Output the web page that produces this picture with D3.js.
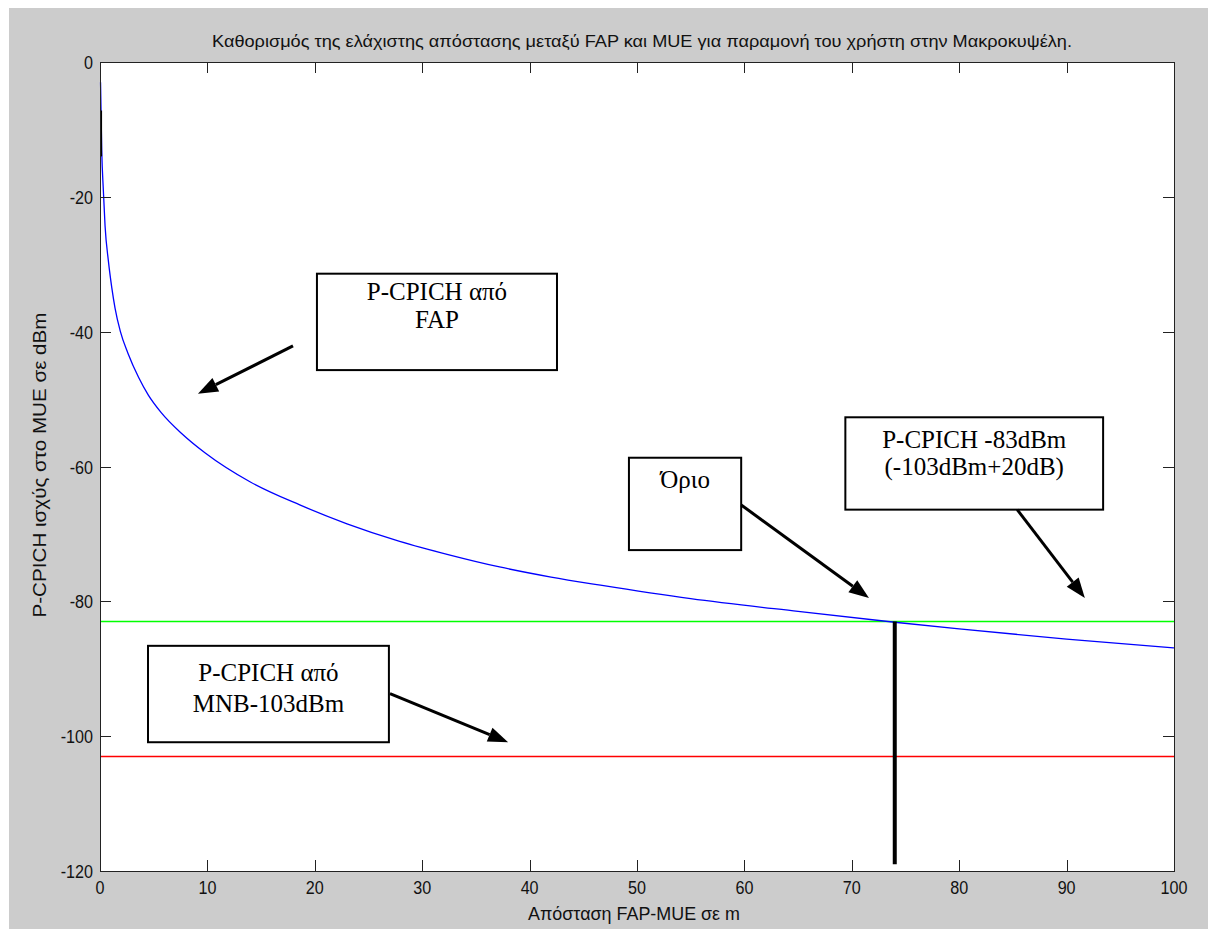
<!DOCTYPE html>
<html>
<head>
<meta charset="utf-8">
<script src="https://cdn.jsdelivr.net/npm/d3@7"></script>
<style>
  body { margin: 0; background: #fff; }
  svg { display: block; }
</style>
</head>
<body>
<div id="chart"></div>
<script>
// values
const distance = [0.05, 0.16, 0.31, 0.47, 0.78, 1.1, 1.4, 1.9, 2.6, 3.6, 4.5, 5.7, 7.6, 9.8, 14, 18.6, 23, 27.9, 32.5, 37.2, 42, 46.6, 55, 65, 74, 80, 90, 100];
const fapPower = [-3, -13, -19, -24.3, -29.5, -33.5, -36.5, -40, -43.2, -46.8, -49.4, -52, -55.1, -58, -62.3, -65.7, -68.5, -71.1, -73.1, -74.9, -76.4, -77.6, -79.6, -81.5, -83.1, -84.1, -85.6, -86.9];
const thresholdLevel = -83;
const mnbLevel = -103;
const limitDistance = 74;
const limitRange = [-83, -119];
const markX = [0.1, 0.1];
const markY = [-7.2, -14];
const xTicks = [0, 10, 20, 30, 40, 50, 60, 70, 80, 90, 100];
const yTicks = [0, -20, -40, -60, -80, -100, -120];

const titleText = "Καθορισμός της ελάχιστης απόστασης μεταξύ FAP και MUE  για παραμονή του χρήστη στην Μακροκυψέλη.";
const xLabel = "Απόσταση FAP-MUE σε m";
const yLabel = "P-CPICH ισχύς στο MUE σε dBm";

// annotation boxes / arrows in data units
const boxes = [
  { x0: 20.2, x1: 42.55, y0: -31.4, y1: -45.7, lines: ["P-CPICH από", "FAP"], base: [-35.3, -39.5] },
  { x0: 4.47, x1: 26.9, y0: -86.6, y1: -100.9, lines: ["P-CPICH από", "MNB-103dBm"], base: [-91.8, -96.4] },
  { x0: 49.25, x1: 59.7, y0: -58.7, y1: -72.4, lines: ["Όριο"], base: [-63.2] },
  { x0: 69.4, x1: 93.4, y0: -52.7, y1: -66.4, lines: ["P-CPICH -83dBm", "(-103dBm+20dB)"], base: [-57.2, -61.3] }
];
const arrows = [
  { from: [17.97, -42.1], to: [9.12, -49.2] },
  { from: [27.0, -93.7], to: [38.0, -100.9] },
  { from: [59.7, -65.7], to: [71.6, -79.5] },
  { from: [85.4, -66.4], to: [91.7, -79.5] }
];

const W = 1208, H = 929;
const pLeft = 100, pTop = 62, pRight = 1174, pBottom = 871;
const axisFont = "'Liberation Sans', Arial, sans-serif";

const svg = d3.select("#chart").append("svg")
  .attr("width", W)
  .attr("height", H);

svg.append("rect").attr("x", 9).attr("y", 8).attr("width", W - 9).attr("height", H - 8).attr("fill", "#cccccc");
svg.append("rect").attr("x", pLeft).attr("y", pTop).attr("width", pRight - pLeft).attr("height", pBottom - pTop).attr("fill", "#fff");

const x = d3.scaleLinear().domain([0, 100]).range([pLeft, pRight]);
const y = d3.scaleLinear().domain([-120, 0]).range([pBottom, pTop]);

const plot = svg.append("g");

// horizontal reference levels
plot.append("line")
  .attr("x1", x(0)).attr("x2", x(100))
  .attr("y1", y(mnbLevel)).attr("y2", y(mnbLevel))
  .attr("stroke", "#ff0000").attr("stroke-width", 1.5);
plot.append("line")
  .attr("x1", x(0)).attr("x2", x(100))
  .attr("y1", y(thresholdLevel)).attr("y2", y(thresholdLevel))
  .attr("stroke", "#00ff00").attr("stroke-width", 1.5);

// FAP curve
const line = d3.line()
  .x((d, i) => x(distance[i]))
  .y(d => y(d))
  .curve(d3.curveMonotoneX);
plot.append("path")
  .datum(fapPower)
  .attr("d", line)
  .attr("fill", "none")
  .attr("stroke", "#0000ff")
  .attr("stroke-width", 1.3);

// limit marker
plot.append("line")
  .attr("x1", x(limitDistance)).attr("x2", x(limitDistance))
  .attr("y1", y(limitRange[0])).attr("y2", y(limitRange[1]))
  .attr("stroke", "#000").attr("stroke-width", 4);
plot.append("line")
  .attr("x1", x(markX[0])).attr("x2", x(markX[1]))
  .attr("y1", y(markY[0])).attr("y2", y(markY[1]))
  .attr("stroke", "#000").attr("stroke-width", 2);

// axes box + ticks (inward, all four sides)
const axisG = svg.append("g").attr("stroke", "#222").attr("stroke-width", 1);
axisG.append("rect")
  .attr("x", pLeft + 0.5).attr("y", pTop + 0.5)
  .attr("width", pRight - pLeft).attr("height", pBottom - pTop)
  .attr("fill", "none");
const tl = 11;
xTicks.forEach(t => {
  const px = Math.round(x(t)) + 0.5;
  axisG.append("line").attr("x1", px).attr("x2", px).attr("y1", pBottom).attr("y2", pBottom - tl);
  axisG.append("line").attr("x1", px).attr("x2", px).attr("y1", pTop).attr("y2", pTop + tl);
});
yTicks.forEach(t => {
  const py = Math.round(y(t)) + 0.5;
  axisG.append("line").attr("x1", pLeft).attr("x2", pLeft + tl).attr("y1", py).attr("y2", py);
  axisG.append("line").attr("x1", pRight).attr("x2", pRight - tl).attr("y1", py).attr("y2", py);
});

// tick labels, squeezed to look like the narrow MATLAB screen font
const labels = svg.append("g").attr("font-family", axisFont).attr("fill", "#111").attr("font-size", 19);
labels.selectAll(".xt").data(xTicks).enter().append("text")
  .attr("transform", d => `translate(${x(d)},${pBottom + 23}) scale(0.85,1)`)
  .attr("text-anchor", "middle")
  .text(d => d);
labels.selectAll(".yt").data(yTicks).enter().append("text")
  .attr("transform", d => `translate(${pLeft - 7},${y(d) + 7}) scale(0.85,1)`)
  .attr("text-anchor", "end")
  .text(d => d);

labels.append("text")
  .attr("x", 642).attr("y", 47)
  .attr("text-anchor", "middle").attr("font-size", 17)
  .attr("textLength", 860).attr("lengthAdjust", "spacingAndGlyphs")
  .text(titleText);
labels.append("text")
  .attr("x", 634).attr("y", 920)
  .attr("text-anchor", "middle")
  .attr("textLength", 212).attr("lengthAdjust", "spacingAndGlyphs")
  .text(xLabel);
labels.append("text")
  .attr("transform", "translate(46,465) rotate(-90)")
  .attr("text-anchor", "middle")
  .attr("textLength", 305).attr("lengthAdjust", "spacingAndGlyphs")
  .text(yLabel);

// annotations
const ann = svg.append("g");
boxes.forEach(b => {
  ann.append("rect")
    .attr("x", x(b.x0)).attr("y", y(b.y0))
    .attr("width", x(b.x1) - x(b.x0)).attr("height", y(b.y1) - y(b.y0))
    .attr("fill", "#fff").attr("stroke", "#000").attr("stroke-width", 2);
  b.lines.forEach((s, i) => {
    ann.append("text")
      .attr("x", (x(b.x0) + x(b.x1)) / 2).attr("y", y(b.base[i]))
      .attr("text-anchor", "middle")
      .attr("font-family", "'Liberation Serif', 'Times New Roman', serif")
      .attr("font-size", 25).attr("fill", "#000")
      .text(s);
  });
});
arrows.forEach(a => {
  const x1 = x(a.from[0]), y1 = y(a.from[1]);
  const x2 = x(a.to[0]), y2 = y(a.to[1]);
  const ang = Math.atan2(y2 - y1, x2 - x1);
  const len = 20, hw = 7.5;
  const bx = x2 - len * Math.cos(ang), by = y2 - len * Math.sin(ang);
  ann.append("line")
    .attr("x1", x1).attr("y1", y1).attr("x2", bx).attr("y2", by)
    .attr("stroke", "#000").attr("stroke-width", 3);
  ann.append("path")
    .attr("d", `M${x2},${y2}L${bx + hw * Math.sin(ang)},${by - hw * Math.cos(ang)}L${bx - hw * Math.sin(ang)},${by + hw * Math.cos(ang)}Z`)
    .attr("fill", "#000");
});
</script>
</body>
</html>
